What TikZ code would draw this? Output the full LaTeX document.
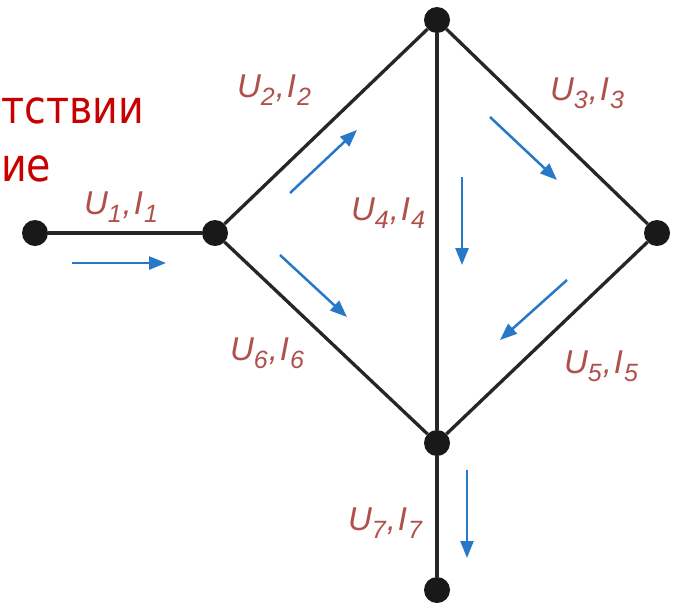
\documentclass[tikz,border=0pt]{standalone}
\usepackage{fontspec}
\setmainfont{Liberation Sans}
\newfontfamily\cyr{DejaVu Sans}
\usetikzlibrary{arrows.meta}
\definecolor{labred}{HTML}{B0504A}
\definecolor{txtred}{HTML}{C80000}
\definecolor{cblue}{HTML}{2878C8}
\newcommand{\subn}[1]{\raisebox{-8pt}{\fontsize{25}{25}\selectfont #1}}
\newcommand{\UI}[1]{\itshape U\kern0pt\subn{#1}\kern1pt,\kern2pt I\kern1pt\subn{#1}}
\begin{document}
\begin{tikzpicture}[x=1pt,y=-1pt,
  wire/.style={line width=3.3pt,black!85},
  dot/.style={circle,fill=black!90,inner sep=0pt,minimum size=26pt},
  flow/.style={cblue,line width=2.5pt,-{Triangle[length=17pt,width=13pt]}},
  lab/.style={labred,font=\fontsize{33}{33}\selectfont},
  rtxt/.style={txtred,font=\cyr\fontsize{46}{46}\selectfont,anchor=base west,inner sep=0pt}]
\useasboundingbox (0,0) rectangle (679,606);
\fill[white] (0,0) rectangle (679,606);
% red text
\node[rtxt] (t1) at (1,123) {\scalebox{0.86}[1]{тствии}};
\node[rtxt] (t2) at (1,181) {\scalebox{0.86}[1]{ие}};
% nodes
\node[dot] (A) at (35,233) {};
\node[dot] (B) at (215,233) {};
\node[dot] (T) at (437,20) {};
\node[dot] (R) at (657,233) {};
\node[dot] (M) at (437,443) {};
\node[dot] (D) at (437,590) {};
% wires
\draw[wire] (A) -- (B);
\draw[wire] (B) -- (T);
\draw[wire] (T) -- (R);
\draw[wire] (T) -- (M);
\draw[wire] (R) -- (M);
\draw[wire] (B) -- (M);
\draw[wire] (M) -- (D);
% flow arrows
\coordinate (f1s) at (72,263);  \coordinate (f1e) at (166,263);
\coordinate (f2s) at (290,193); \coordinate (f2e) at (357,130);
\coordinate (f3s) at (490,117); \coordinate (f3e) at (557,180);
\coordinate (f4s) at (462,177); \coordinate (f4e) at (462,265);
\coordinate (f5s) at (567,280); \coordinate (f5e) at (500,340);
\coordinate (f6s) at (280,255); \coordinate (f6e) at (347,317);
\coordinate (f7s) at (467,470); \coordinate (f7e) at (467,558);
\foreach \i in {1,...,7} \draw[flow] (f\i s) -- (f\i e);
% labels
\node[lab] (L1) at (121,207) {\UI{1}};
\node[lab] (L2) at (274,90) {\UI{2}};
\node[lab] (L3) at (587,93) {\UI{3}};
\node[lab] (L4) at (388,213) {\UI{4}};
\node[lab] (L5) at (601,366) {\UI{5}};
\node[lab] (L6) at (267,353) {\UI{6}};
\node[lab] (L7) at (385,523) {\UI{7}};
\end{tikzpicture}
\end{document}
